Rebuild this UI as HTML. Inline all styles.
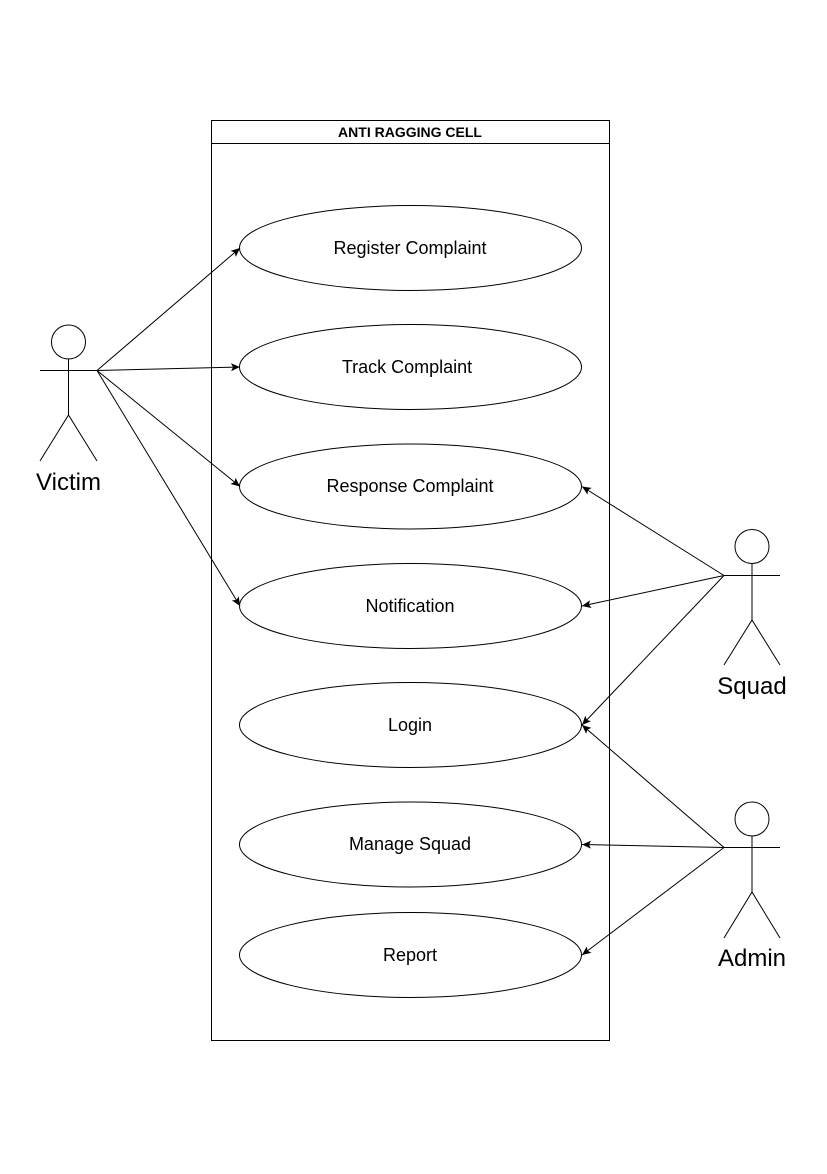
<!DOCTYPE html>
<html><head><style>body{margin:0;background:#fff}</style></head><body>
<svg width="827" height="1169" xmlns="http://www.w3.org/2000/svg" font-family="Liberation Sans, Arial, sans-serif">
<defs><marker id="a" markerWidth="10" markerHeight="8" refX="9" refY="4" orient="auto" markerUnits="userSpaceOnUse"><path d="M0,0 L9,4 L0,8 L2,4 Z" fill="#000"/></marker></defs>
<rect x="211.5" y="120.5" width="398" height="920" fill="#fff" stroke="#000"/>
<line x1="211.5" y1="143.5" x2="609.5" y2="143.5" stroke="#000"/>
<text x="410" y="137" font-size="14" font-weight="bold" text-anchor="middle">ANTI RAGGING CELL</text>
<g fill="#fff" stroke="#000">
<ellipse cx="410.5" cy="248" rx="171" ry="42.5"/>
<ellipse cx="410.5" cy="367" rx="171" ry="42.5"/>
<ellipse cx="410.5" cy="486.5" rx="171" ry="42.5"/>
<ellipse cx="410.5" cy="606" rx="171" ry="42.5"/>
<ellipse cx="410.5" cy="725" rx="171" ry="42.5"/>
<ellipse cx="410.5" cy="844.5" rx="171" ry="42.5"/>
<ellipse cx="410.5" cy="955" rx="171" ry="42.5"/>
</g>
<g font-size="18" text-anchor="middle">
<text x="410" y="254">Register Complaint</text>
<text x="407" y="373">Track Complaint</text>
<text x="410" y="492">Response Complaint</text>
<text x="410" y="612">Notification</text>
<text x="410" y="731">Login</text>
<text x="410" y="850">Manage Squad</text>
<text x="410" y="961">Report</text>
</g>
<g stroke="#000" fill="none">
<circle cx="68.5" cy="342" r="17"/><path d="M68.5,359V415M40,370.5H97M40,461L68.5,415L97,461"/>
<circle cx="752" cy="546.5" r="17"/><path d="M752,563.5V620M724,575.5H780M724,665L752,620L780,665"/>
<circle cx="752" cy="819" r="17"/><path d="M752,836V892M724,847.5H780M724,938L752,892L780,938"/>
</g>
<g font-size="24" text-anchor="middle">
<text x="68.5" y="490">Victim</text>
<text x="752" y="694">Squad</text>
<text x="752" y="966">Admin</text>
</g>
<g stroke="#000" marker-end="url(#a)">
<line x1="97" y1="370.5" x2="240" y2="248"/>
<line x1="97" y1="370.5" x2="240" y2="367"/>
<line x1="97" y1="370.5" x2="240" y2="486.5"/>
<line x1="97" y1="370.5" x2="240" y2="606"/>
<line x1="724" y1="575.5" x2="582" y2="486.5"/>
<line x1="724" y1="575.5" x2="582" y2="606"/>
<line x1="724" y1="575.5" x2="582" y2="725"/>
<line x1="724" y1="847.5" x2="582" y2="725"/>
<line x1="724" y1="847.5" x2="582" y2="844.5"/>
<line x1="724" y1="847.5" x2="582" y2="955"/>
</g>
</svg>
</body></html>
